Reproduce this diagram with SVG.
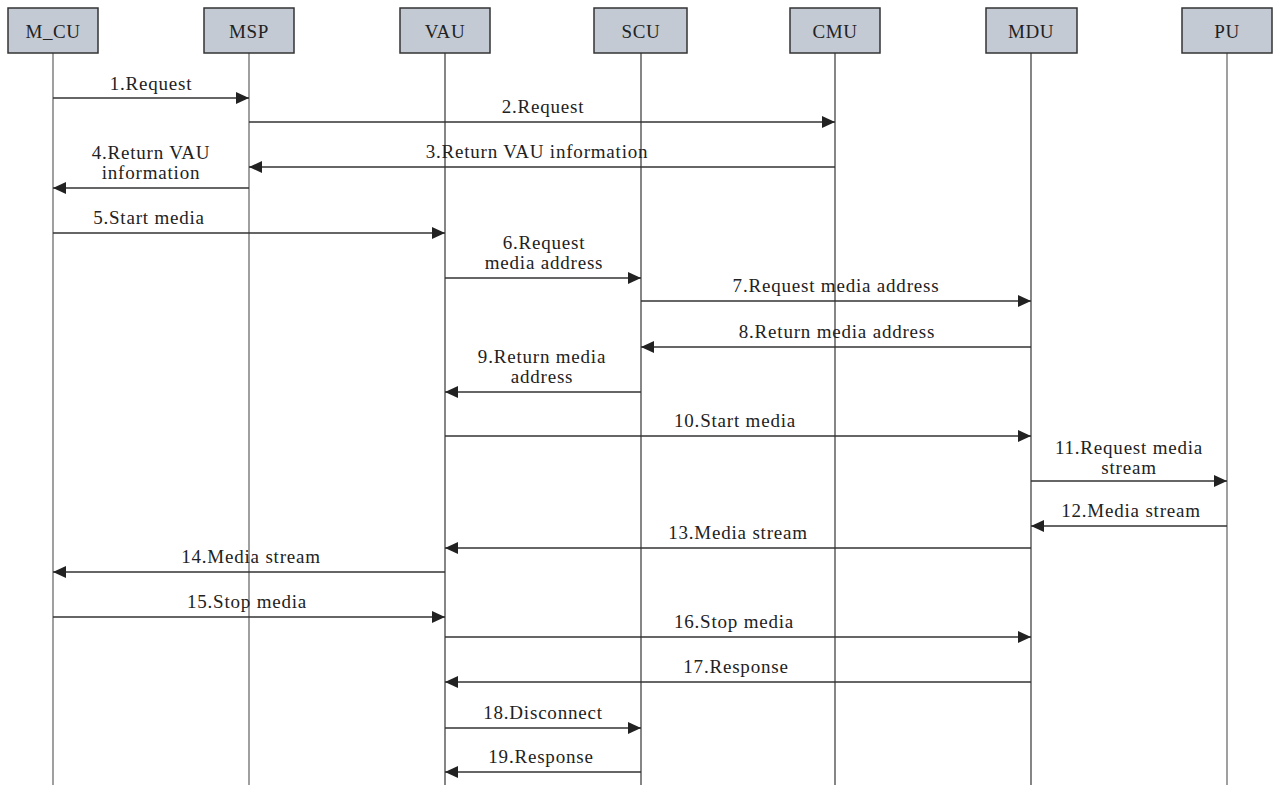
<svg xmlns="http://www.w3.org/2000/svg" width="1273" height="785" viewBox="0 0 1273 785">
<style>
.box{fill:#c3cad4;stroke:#333;stroke-width:1.5}
.name{font-family:"Liberation Serif","Times New Roman",serif;font-size:19px;fill:#222;text-anchor:middle;letter-spacing:0.6px}
.life{stroke:#444;stroke-width:1.3}
.lifel{stroke:#777;stroke-width:1.4}
.msg{stroke:#333;stroke-width:1.3;fill:none;marker-end:url(#ah)}
.lbl{font-family:"Liberation Serif","Times New Roman",serif;font-size:19px;fill:#222;text-anchor:middle;letter-spacing:0.8px}
</style>
<defs>
<marker id="ah" markerUnits="userSpaceOnUse" markerWidth="14" markerHeight="12" refX="13" refY="6" orient="auto">
<path d="M0,0 L13,6 L0,12 z" fill="#222"/>
</marker>
</defs>
<rect width="1273" height="785" fill="#fff"/>
<g id="lifelines">
<line class="lifel" x1="53" y1="53" x2="53" y2="785"/>
<line class="lifel" x1="249" y1="53" x2="249" y2="785"/>
<line class="life" x1="445" y1="53" x2="445" y2="785"/>
<line class="life" x1="641" y1="53" x2="641" y2="785"/>
<line class="life" x1="835" y1="53" x2="835" y2="785"/>
<line class="life" x1="1031" y1="53" x2="1031" y2="785"/>
<line class="lifel" x1="1227" y1="53" x2="1227" y2="785"/>
</g>
<g id="n_mcu"><rect class="box" x="8" y="8" width="90" height="45"/><text class="name" x="53" y="38">M_CU</text></g>
<g id="n_msp"><rect class="box" x="204" y="8" width="90" height="45"/><text class="name" x="249" y="38">MSP</text></g>
<g id="n_vau"><rect class="box" x="400" y="8" width="90" height="45"/><text class="name" x="445" y="38">VAU</text></g>
<g id="n_scu"><rect class="box" x="594" y="8" width="93" height="45"/><text class="name" x="641" y="38">SCU</text></g>
<g id="n_cmu"><rect class="box" x="790" y="8" width="90" height="45"/><text class="name" x="835" y="38">CMU</text></g>
<g id="n_mdu"><rect class="box" x="986" y="8" width="91" height="45"/><text class="name" x="1031" y="38">MDU</text></g>
<g id="n_pu"><rect class="box" x="1182" y="8" width="90" height="45"/><text class="name" x="1227" y="38">PU</text></g>
<g id="connectors">
<line class="msg" x1="53" y1="98" x2="249" y2="98"/>
<line class="msg" x1="249" y1="122" x2="835" y2="122"/>
<line class="msg" x1="835" y1="167" x2="249" y2="167"/>
<line class="msg" x1="249" y1="188" x2="53" y2="188"/>
<line class="msg" x1="53" y1="233" x2="445" y2="233"/>
<line class="msg" x1="445" y1="278" x2="641" y2="278"/>
<line class="msg" x1="641" y1="301" x2="1031" y2="301"/>
<line class="msg" x1="1031" y1="347" x2="641" y2="347"/>
<line class="msg" x1="641" y1="392" x2="445" y2="392"/>
<line class="msg" x1="445" y1="436" x2="1031" y2="436"/>
<line class="msg" x1="1031" y1="481" x2="1227" y2="481"/>
<line class="msg" x1="1227" y1="526" x2="1031" y2="526"/>
<line class="msg" x1="1031" y1="548" x2="445" y2="548"/>
<line class="msg" x1="445" y1="572" x2="53" y2="572"/>
<line class="msg" x1="53" y1="617" x2="445" y2="617"/>
<line class="msg" x1="445" y1="637" x2="1031" y2="637"/>
<line class="msg" x1="1031" y1="682" x2="445" y2="682"/>
<line class="msg" x1="445" y1="728" x2="641" y2="728"/>
<line class="msg" x1="641" y1="772" x2="445" y2="772"/>
</g>
<g id="labels">
<text class="lbl" x="151" y="90">1.Request</text>
<text class="lbl" x="543" y="113">2.Request</text>
<text class="lbl" x="537" y="158">3.Return VAU information</text>
<text class="lbl" x="151" y="159">4.Return VAU</text>
<text class="lbl" x="151" y="179">information</text>
<text class="lbl" x="149" y="224">5.Start media</text>
<text class="lbl" x="544" y="249">6.Request</text>
<text class="lbl" x="544" y="269">media address</text>
<text class="lbl" x="836" y="292">7.Request media address</text>
<text class="lbl" x="837" y="338">8.Return media address</text>
<text class="lbl" x="542" y="363">9.Return media</text>
<text class="lbl" x="542" y="383">address</text>
<text class="lbl" x="735" y="427">10.Start media</text>
<text class="lbl" x="1129" y="454">11.Request media</text>
<text class="lbl" x="1129" y="474">stream</text>
<text class="lbl" x="1131" y="517">12.Media stream</text>
<text class="lbl" x="738" y="539">13.Media stream</text>
<text class="lbl" x="251" y="563">14.Media stream</text>
<text class="lbl" x="247" y="608">15.Stop media</text>
<text class="lbl" x="734" y="628">16.Stop media</text>
<text class="lbl" x="736" y="673">17.Response</text>
<text class="lbl" x="543" y="719">18.Disconnect</text>
<text class="lbl" x="541" y="763">19.Response</text>
</g>
</svg>
